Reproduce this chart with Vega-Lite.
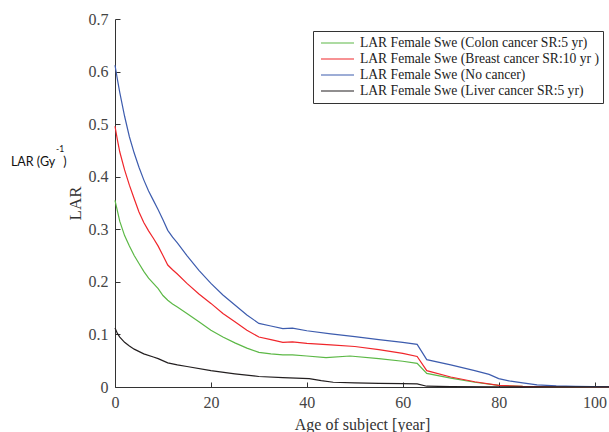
{
  "$schema": "https://vega.github.io/schema/vega-lite/v6.json",
  "width": 494,
  "height": 368,
  "autosize": {"type": "none"},
  "padding": {"left": 115, "top": 19, "right": 0, "bottom": 45},
  "background": "white",
  "config": {
    "view": {"stroke": null},
    "axis": {
      "grid": false,
      "domainColor": "#333333",
      "tickColor": "#333333",
      "labelFont": "Liberation Serif",
      "labelFontSize": 16,
      "labelColor": "#444444",
      "labelFlush": false,
      "titleFont": "Liberation Serif",
      "titleFontSize": 16,
      "titleFontWeight": "normal",
      "titleColor": "#333333",
      "tickSize": -5
    }
  },
  "layer": [
    {
      "data": {"values": [
        {"s": "LAR Female Swe (Colon cancer SR:5 yr)", "age": 0, "lar": 0.355},
        {"s": "LAR Female Swe (Colon cancer SR:5 yr)", "age": 0.5, "lar": 0.335},
        {"s": "LAR Female Swe (Colon cancer SR:5 yr)", "age": 1, "lar": 0.315},
        {"s": "LAR Female Swe (Colon cancer SR:5 yr)", "age": 2, "lar": 0.288},
        {"s": "LAR Female Swe (Colon cancer SR:5 yr)", "age": 3, "lar": 0.268},
        {"s": "LAR Female Swe (Colon cancer SR:5 yr)", "age": 4, "lar": 0.25},
        {"s": "LAR Female Swe (Colon cancer SR:5 yr)", "age": 5, "lar": 0.235},
        {"s": "LAR Female Swe (Colon cancer SR:5 yr)", "age": 6, "lar": 0.22},
        {"s": "LAR Female Swe (Colon cancer SR:5 yr)", "age": 7, "lar": 0.207},
        {"s": "LAR Female Swe (Colon cancer SR:5 yr)", "age": 8, "lar": 0.197},
        {"s": "LAR Female Swe (Colon cancer SR:5 yr)", "age": 9, "lar": 0.187},
        {"s": "LAR Female Swe (Colon cancer SR:5 yr)", "age": 10, "lar": 0.174},
        {"s": "LAR Female Swe (Colon cancer SR:5 yr)", "age": 11, "lar": 0.165},
        {"s": "LAR Female Swe (Colon cancer SR:5 yr)", "age": 12, "lar": 0.158},
        {"s": "LAR Female Swe (Colon cancer SR:5 yr)", "age": 13, "lar": 0.152},
        {"s": "LAR Female Swe (Colon cancer SR:5 yr)", "age": 15, "lar": 0.14},
        {"s": "LAR Female Swe (Colon cancer SR:5 yr)", "age": 17.5, "lar": 0.124},
        {"s": "LAR Female Swe (Colon cancer SR:5 yr)", "age": 20, "lar": 0.108},
        {"s": "LAR Female Swe (Colon cancer SR:5 yr)", "age": 22.5, "lar": 0.095},
        {"s": "LAR Female Swe (Colon cancer SR:5 yr)", "age": 25, "lar": 0.084},
        {"s": "LAR Female Swe (Colon cancer SR:5 yr)", "age": 27.5, "lar": 0.074},
        {"s": "LAR Female Swe (Colon cancer SR:5 yr)", "age": 30, "lar": 0.066},
        {"s": "LAR Female Swe (Colon cancer SR:5 yr)", "age": 32.5, "lar": 0.063},
        {"s": "LAR Female Swe (Colon cancer SR:5 yr)", "age": 35, "lar": 0.061},
        {"s": "LAR Female Swe (Colon cancer SR:5 yr)", "age": 37, "lar": 0.061},
        {"s": "LAR Female Swe (Colon cancer SR:5 yr)", "age": 40, "lar": 0.059},
        {"s": "LAR Female Swe (Colon cancer SR:5 yr)", "age": 44, "lar": 0.056},
        {"s": "LAR Female Swe (Colon cancer SR:5 yr)", "age": 49, "lar": 0.059},
        {"s": "LAR Female Swe (Colon cancer SR:5 yr)", "age": 55, "lar": 0.054},
        {"s": "LAR Female Swe (Colon cancer SR:5 yr)", "age": 60, "lar": 0.049},
        {"s": "LAR Female Swe (Colon cancer SR:5 yr)", "age": 63, "lar": 0.045},
        {"s": "LAR Female Swe (Colon cancer SR:5 yr)", "age": 65, "lar": 0.026},
        {"s": "LAR Female Swe (Colon cancer SR:5 yr)", "age": 70, "lar": 0.017},
        {"s": "LAR Female Swe (Colon cancer SR:5 yr)", "age": 75, "lar": 0.009},
        {"s": "LAR Female Swe (Colon cancer SR:5 yr)", "age": 80, "lar": 0.003},
        {"s": "LAR Female Swe (Colon cancer SR:5 yr)", "age": 85, "lar": 0.001},
        {"s": "LAR Female Swe (Colon cancer SR:5 yr)", "age": 90, "lar": 0.0005},
        {"s": "LAR Female Swe (Colon cancer SR:5 yr)", "age": 103, "lar": 0.0002},

        {"s": "LAR Female Swe (Breast cancer SR:10 yr )", "age": 0, "lar": 0.496},
        {"s": "LAR Female Swe (Breast cancer SR:10 yr )", "age": 0.5, "lar": 0.47},
        {"s": "LAR Female Swe (Breast cancer SR:10 yr )", "age": 1, "lar": 0.447},
        {"s": "LAR Female Swe (Breast cancer SR:10 yr )", "age": 2, "lar": 0.413},
        {"s": "LAR Female Swe (Breast cancer SR:10 yr )", "age": 3, "lar": 0.384},
        {"s": "LAR Female Swe (Breast cancer SR:10 yr )", "age": 4, "lar": 0.358},
        {"s": "LAR Female Swe (Breast cancer SR:10 yr )", "age": 5, "lar": 0.333},
        {"s": "LAR Female Swe (Breast cancer SR:10 yr )", "age": 6, "lar": 0.313},
        {"s": "LAR Female Swe (Breast cancer SR:10 yr )", "age": 7, "lar": 0.297},
        {"s": "LAR Female Swe (Breast cancer SR:10 yr )", "age": 8, "lar": 0.283},
        {"s": "LAR Female Swe (Breast cancer SR:10 yr )", "age": 9, "lar": 0.268},
        {"s": "LAR Female Swe (Breast cancer SR:10 yr )", "age": 10, "lar": 0.25},
        {"s": "LAR Female Swe (Breast cancer SR:10 yr )", "age": 11, "lar": 0.232},
        {"s": "LAR Female Swe (Breast cancer SR:10 yr )", "age": 12, "lar": 0.223},
        {"s": "LAR Female Swe (Breast cancer SR:10 yr )", "age": 13, "lar": 0.215},
        {"s": "LAR Female Swe (Breast cancer SR:10 yr )", "age": 15, "lar": 0.197},
        {"s": "LAR Female Swe (Breast cancer SR:10 yr )", "age": 17.5, "lar": 0.177},
        {"s": "LAR Female Swe (Breast cancer SR:10 yr )", "age": 20, "lar": 0.159},
        {"s": "LAR Female Swe (Breast cancer SR:10 yr )", "age": 22.5, "lar": 0.14},
        {"s": "LAR Female Swe (Breast cancer SR:10 yr )", "age": 25, "lar": 0.124},
        {"s": "LAR Female Swe (Breast cancer SR:10 yr )", "age": 27.5, "lar": 0.108},
        {"s": "LAR Female Swe (Breast cancer SR:10 yr )", "age": 30, "lar": 0.095},
        {"s": "LAR Female Swe (Breast cancer SR:10 yr )", "age": 32.5, "lar": 0.09},
        {"s": "LAR Female Swe (Breast cancer SR:10 yr )", "age": 35, "lar": 0.085},
        {"s": "LAR Female Swe (Breast cancer SR:10 yr )", "age": 37, "lar": 0.086},
        {"s": "LAR Female Swe (Breast cancer SR:10 yr )", "age": 40, "lar": 0.083},
        {"s": "LAR Female Swe (Breast cancer SR:10 yr )", "age": 45, "lar": 0.08},
        {"s": "LAR Female Swe (Breast cancer SR:10 yr )", "age": 50, "lar": 0.077},
        {"s": "LAR Female Swe (Breast cancer SR:10 yr )", "age": 55, "lar": 0.071},
        {"s": "LAR Female Swe (Breast cancer SR:10 yr )", "age": 60, "lar": 0.064},
        {"s": "LAR Female Swe (Breast cancer SR:10 yr )", "age": 63, "lar": 0.058},
        {"s": "LAR Female Swe (Breast cancer SR:10 yr )", "age": 65, "lar": 0.031},
        {"s": "LAR Female Swe (Breast cancer SR:10 yr )", "age": 70, "lar": 0.019},
        {"s": "LAR Female Swe (Breast cancer SR:10 yr )", "age": 75, "lar": 0.01},
        {"s": "LAR Female Swe (Breast cancer SR:10 yr )", "age": 80, "lar": 0.003},
        {"s": "LAR Female Swe (Breast cancer SR:10 yr )", "age": 85, "lar": 0.001},
        {"s": "LAR Female Swe (Breast cancer SR:10 yr )", "age": 90, "lar": 0.0005},
        {"s": "LAR Female Swe (Breast cancer SR:10 yr )", "age": 103, "lar": 0.0002},

        {"s": "LAR Female Swe (No cancer)", "age": 0, "lar": 0.612},
        {"s": "LAR Female Swe (No cancer)", "age": 0.5, "lar": 0.585},
        {"s": "LAR Female Swe (No cancer)", "age": 1, "lar": 0.56},
        {"s": "LAR Female Swe (No cancer)", "age": 2, "lar": 0.515},
        {"s": "LAR Female Swe (No cancer)", "age": 3, "lar": 0.476},
        {"s": "LAR Female Swe (No cancer)", "age": 4, "lar": 0.445},
        {"s": "LAR Female Swe (No cancer)", "age": 5, "lar": 0.418},
        {"s": "LAR Female Swe (No cancer)", "age": 6, "lar": 0.394},
        {"s": "LAR Female Swe (No cancer)", "age": 7, "lar": 0.373},
        {"s": "LAR Female Swe (No cancer)", "age": 8, "lar": 0.355},
        {"s": "LAR Female Swe (No cancer)", "age": 9, "lar": 0.337},
        {"s": "LAR Female Swe (No cancer)", "age": 10, "lar": 0.318},
        {"s": "LAR Female Swe (No cancer)", "age": 11, "lar": 0.298},
        {"s": "LAR Female Swe (No cancer)", "age": 12, "lar": 0.285},
        {"s": "LAR Female Swe (No cancer)", "age": 13, "lar": 0.274},
        {"s": "LAR Female Swe (No cancer)", "age": 15, "lar": 0.25},
        {"s": "LAR Female Swe (No cancer)", "age": 17.5, "lar": 0.222},
        {"s": "LAR Female Swe (No cancer)", "age": 20, "lar": 0.197},
        {"s": "LAR Female Swe (No cancer)", "age": 22.5, "lar": 0.175},
        {"s": "LAR Female Swe (No cancer)", "age": 25, "lar": 0.156},
        {"s": "LAR Female Swe (No cancer)", "age": 27.5, "lar": 0.137},
        {"s": "LAR Female Swe (No cancer)", "age": 30, "lar": 0.121},
        {"s": "LAR Female Swe (No cancer)", "age": 32.5, "lar": 0.116},
        {"s": "LAR Female Swe (No cancer)", "age": 35, "lar": 0.111},
        {"s": "LAR Female Swe (No cancer)", "age": 37, "lar": 0.112},
        {"s": "LAR Female Swe (No cancer)", "age": 40, "lar": 0.107},
        {"s": "LAR Female Swe (No cancer)", "age": 45, "lar": 0.101},
        {"s": "LAR Female Swe (No cancer)", "age": 50, "lar": 0.096},
        {"s": "LAR Female Swe (No cancer)", "age": 55, "lar": 0.09},
        {"s": "LAR Female Swe (No cancer)", "age": 60, "lar": 0.085},
        {"s": "LAR Female Swe (No cancer)", "age": 63, "lar": 0.081},
        {"s": "LAR Female Swe (No cancer)", "age": 65, "lar": 0.052},
        {"s": "LAR Female Swe (No cancer)", "age": 70, "lar": 0.042},
        {"s": "LAR Female Swe (No cancer)", "age": 75, "lar": 0.031},
        {"s": "LAR Female Swe (No cancer)", "age": 78, "lar": 0.024},
        {"s": "LAR Female Swe (No cancer)", "age": 80, "lar": 0.016},
        {"s": "LAR Female Swe (No cancer)", "age": 82.5, "lar": 0.011},
        {"s": "LAR Female Swe (No cancer)", "age": 85, "lar": 0.008},
        {"s": "LAR Female Swe (No cancer)", "age": 88, "lar": 0.004},
        {"s": "LAR Female Swe (No cancer)", "age": 92, "lar": 0.002},
        {"s": "LAR Female Swe (No cancer)", "age": 96, "lar": 0.001},
        {"s": "LAR Female Swe (No cancer)", "age": 103, "lar": 0.0005},

        {"s": "LAR Female Swe (Liver cancer SR:5 yr)", "age": 0, "lar": 0.112},
        {"s": "LAR Female Swe (Liver cancer SR:5 yr)", "age": 0.5, "lar": 0.102},
        {"s": "LAR Female Swe (Liver cancer SR:5 yr)", "age": 1, "lar": 0.095},
        {"s": "LAR Female Swe (Liver cancer SR:5 yr)", "age": 2, "lar": 0.085},
        {"s": "LAR Female Swe (Liver cancer SR:5 yr)", "age": 3, "lar": 0.078},
        {"s": "LAR Female Swe (Liver cancer SR:5 yr)", "age": 4, "lar": 0.072},
        {"s": "LAR Female Swe (Liver cancer SR:5 yr)", "age": 6, "lar": 0.063},
        {"s": "LAR Female Swe (Liver cancer SR:5 yr)", "age": 8, "lar": 0.057},
        {"s": "LAR Female Swe (Liver cancer SR:5 yr)", "age": 9, "lar": 0.054},
        {"s": "LAR Female Swe (Liver cancer SR:5 yr)", "age": 11, "lar": 0.046},
        {"s": "LAR Female Swe (Liver cancer SR:5 yr)", "age": 13, "lar": 0.042},
        {"s": "LAR Female Swe (Liver cancer SR:5 yr)", "age": 15, "lar": 0.039},
        {"s": "LAR Female Swe (Liver cancer SR:5 yr)", "age": 20, "lar": 0.031},
        {"s": "LAR Female Swe (Liver cancer SR:5 yr)", "age": 25, "lar": 0.025},
        {"s": "LAR Female Swe (Liver cancer SR:5 yr)", "age": 30, "lar": 0.02},
        {"s": "LAR Female Swe (Liver cancer SR:5 yr)", "age": 35, "lar": 0.018},
        {"s": "LAR Female Swe (Liver cancer SR:5 yr)", "age": 40.5, "lar": 0.016},
        {"s": "LAR Female Swe (Liver cancer SR:5 yr)", "age": 43, "lar": 0.012},
        {"s": "LAR Female Swe (Liver cancer SR:5 yr)", "age": 45.5, "lar": 0.009},
        {"s": "LAR Female Swe (Liver cancer SR:5 yr)", "age": 50, "lar": 0.0078},
        {"s": "LAR Female Swe (Liver cancer SR:5 yr)", "age": 55, "lar": 0.007},
        {"s": "LAR Female Swe (Liver cancer SR:5 yr)", "age": 60, "lar": 0.0065},
        {"s": "LAR Female Swe (Liver cancer SR:5 yr)", "age": 63, "lar": 0.006},
        {"s": "LAR Female Swe (Liver cancer SR:5 yr)", "age": 65, "lar": 0.0015},
        {"s": "LAR Female Swe (Liver cancer SR:5 yr)", "age": 70, "lar": 0.0008},
        {"s": "LAR Female Swe (Liver cancer SR:5 yr)", "age": 80, "lar": 0.0003},
        {"s": "LAR Female Swe (Liver cancer SR:5 yr)", "age": 103, "lar": 0.0001}
      ]},
      "mark": {"type": "line", "strokeWidth": 1.2, "interpolate": "linear"},
      "encoding": {
        "x": {
          "field": "age", "type": "quantitative",
          "scale": {"domain": [0, 103], "nice": false, "zero": false},
          "axis": {"values": [0, 20, 40, 60, 80, 100], "title": "Age of subject [year]", "labelPadding": 12, "titlePadding": 6}
        },
        "y": {
          "field": "lar", "type": "quantitative",
          "scale": {"domain": [0, 0.7], "nice": false},
          "axis": {"values": [0, 0.1, 0.2, 0.3, 0.4, 0.5, 0.6, 0.7], "format": "~g", "title": "LAR", "titleFontSize": 17, "labelPadding": 12, "titlePadding": 4}
        },
        "color": {
          "field": "s", "type": "nominal",
          "scale": {
            "domain": ["LAR Female Swe (Colon cancer SR:5 yr)", "LAR Female Swe (Breast cancer SR:10 yr )", "LAR Female Swe (No cancer)", "LAR Female Swe (Liver cancer SR:5 yr)"],
            "range": ["#5cb846", "#f0262b", "#3d5cae", "#231f20"]
          },
          "legend": {
            "title": null,
            "orient": "none",
            "legendX": 198,
            "legendY": 12,
            "symbolType": "stroke",
            "symbolSize": 1089,
            "symbolStrokeWidth": 1.2,
            "symbolOffset": 3,
            "clipHeight": 16,
            "rowPadding": 0,
            "padding": 4,
            "labelOffset": 5,
            "labelFont": "Liberation Serif",
            "labelFontSize": 13.6,
            "labelColor": "#222222",
            "labelLimit": 400,
            "strokeColor": "#333333",
            "fillColor": "white"
          }
        }
      }
    },
    {
      "data": {"values": [{}]},
      "mark": {"type": "text", "align": "left", "baseline": "middle", "font": "Lato", "fontSize": 12.5, "color": "#111111"},
      "encoding": {"x": {"datum": -21.7}, "y": {"datum": 0.428}, "text": {"value": "LAR (Gy"}}
    },
    {
      "data": {"values": [{}]},
      "mark": {"type": "text", "align": "left", "baseline": "middle", "font": "Lato", "fontSize": 8.5, "color": "#111111"},
      "encoding": {"x": {"datum": -12.3}, "y": {"datum": 0.452}, "text": {"value": "-1"}}
    },
    {
      "data": {"values": [{}]},
      "mark": {"type": "text", "align": "left", "baseline": "middle", "font": "Lato", "fontSize": 12.5, "color": "#111111"},
      "encoding": {"x": {"datum": -10.8}, "y": {"datum": 0.428}, "text": {"value": ")"}}
    }
  ]
}
